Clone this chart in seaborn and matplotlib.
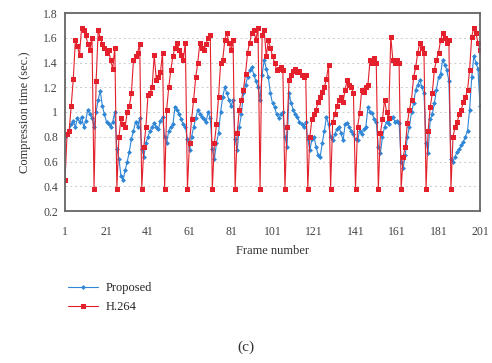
import matplotlib
matplotlib.use("Agg")
import matplotlib.pyplot as plt
import seaborn as sns
import pandas as pd

# values, one row per GOP (drop frame = I-frame)
h264_time = [
    0.45, 0.82, 0.85, 1.05, 1.27, 1.58, 1.53, 1.46, 1.68, 1.66, 1.62, 1.55, 1.50, 1.60, 0.38,
    1.25, 1.66, 1.60, 1.55, 1.52, 1.48, 1.50, 1.42, 1.35, 1.52, 0.38,
    0.80, 0.95, 0.90, 0.88, 1.00, 1.05, 1.15, 1.42, 1.45, 1.48, 1.55, 0.38,
    0.72, 0.88, 1.14, 1.15, 1.20, 1.46, 1.26, 1.28, 1.32, 1.48, 0.38,
    1.02, 1.20, 1.34, 1.45, 1.52, 1.56, 1.50, 1.46, 1.42, 1.56, 0.38,
    0.75, 0.94, 1.10, 1.28, 1.40, 1.56, 1.52, 1.50, 1.55, 1.60, 1.62, 0.38,
    0.75, 0.90, 1.12, 1.40, 1.42, 1.58, 1.64, 1.56, 1.50, 1.58, 0.38,
    0.83, 1.02, 1.10, 1.18, 1.31, 1.48, 1.56, 1.64, 1.66, 1.58, 1.68, 0.38,
    1.62, 1.66, 1.45, 1.58, 1.52, 1.45, 1.40, 1.34, 1.35, 1.36, 1.34, 0.38,
    0.88, 1.26, 1.30, 1.33, 1.35, 1.32, 1.33, 1.30, 1.28, 1.30, 0.38,
    0.80, 0.94, 0.98, 1.02, 1.08, 1.12, 1.16, 1.20, 1.27, 1.38, 0.38,
    0.92, 0.98, 1.05, 1.10, 1.12, 1.08, 1.18, 1.26, 1.22, 1.20, 1.15, 0.38,
    0.88, 0.99, 1.18, 1.16, 1.20, 1.22, 1.42, 1.40, 1.44, 1.40, 0.38,
    0.83, 0.94, 1.10, 1.00, 0.95, 1.61, 1.42, 1.40, 1.42, 1.40, 0.38,
    0.64, 0.72, 0.91, 1.02, 1.10, 1.28, 1.36, 1.48, 1.56, 1.52, 1.48, 0.38,
    0.85, 1.04, 1.15, 1.34, 1.42, 1.48, 1.58, 1.64, 1.60, 1.56, 1.58, 0.38,
    0.80, 0.88, 0.92, 0.98, 1.02, 1.08, 1.12, 1.18, 1.34, 1.61, 1.68, 1.64, 1.56, 1.50,
]

proposed_time = [
    0.80, 0.83, 0.85, 0.90, 0.93, 0.88, 0.95, 0.92, 0.96, 0.88, 0.93, 1.02, 0.98, 0.95, 0.88,
    1.00, 1.10, 1.17, 1.05, 0.98, 0.92, 0.90, 0.88, 0.92, 1.00, 0.70,
    0.62, 0.48, 0.45, 0.53, 0.60, 0.68, 0.78, 0.85, 0.92, 0.88, 0.95, 0.70,
    0.64, 0.75, 0.80, 0.85, 0.88, 0.91, 0.88, 0.86, 0.93, 0.96, 0.80,
    0.75, 0.85, 0.88, 0.90, 1.04, 1.02, 0.98, 0.94, 0.90, 0.88, 0.78,
    0.69, 0.80, 0.88, 0.95, 1.02, 0.98, 0.96, 0.94, 0.92, 1.00, 0.95, 0.70,
    0.62, 0.75, 0.83, 1.00, 1.12, 1.20, 1.15, 1.10, 1.05, 1.10, 0.78,
    0.69, 0.88, 0.98, 1.15, 1.22, 1.28, 1.34, 1.36, 1.30, 1.25, 1.20, 1.10,
    1.30, 1.42, 1.35, 1.28, 1.15, 1.07, 1.04, 0.98, 0.95, 0.98, 1.00, 0.80,
    0.72, 1.15, 1.07, 1.02, 0.98, 0.96, 0.92, 0.90, 0.88, 0.92, 0.78,
    0.69, 0.78, 0.80, 0.72, 0.65, 0.64, 0.75, 0.85, 0.96, 0.90, 0.80,
    0.77, 0.82, 0.86, 0.88, 0.83, 0.77, 0.90, 0.91, 0.88, 0.85, 0.82, 0.78,
    0.77, 0.85, 0.82, 0.86, 0.88, 1.04, 1.00, 0.99, 0.94, 0.92, 0.72,
    0.67, 0.80, 0.88, 0.92, 0.90, 0.95, 0.96, 0.92, 0.93, 0.91, 0.60,
    0.55, 0.65, 0.80, 0.88, 1.00, 1.07, 1.18, 1.22, 1.26, 1.20, 1.15, 0.75,
    0.67, 0.94, 0.98, 1.07, 1.18, 1.28, 1.31, 1.42, 1.38, 1.34, 1.25, 0.62,
    0.60, 0.64, 0.68, 0.70, 0.73, 0.76, 0.80, 0.85, 1.02, 1.28, 1.45, 1.40, 1.35, 1.05,
]

frames = list(range(1, 202))
x_ticks = list(range(1, 202, 20))
y_ticks = [0.2, 0.4, 0.6, 0.8, 1.0, 1.2, 1.4, 1.6, 1.8]
y_tick_labels = ["0.2", "0.4", "0.6", "0.8", "1", "1.2", "1.4", "1.6", "1.8"]

df = pd.DataFrame({"frame": frames, "Proposed": proposed_time, "H.264": h264_time})

sns.set_style("white")
plt.rcParams["font.family"] = ["Liberation Serif", "DejaVu Serif"]

fig, ax = plt.subplots(figsize=(4.92, 3.63), dpi=100)
fig.subplots_adjust(left=65 / 492, right=480 / 492, top=1 - 13 / 363, bottom=1 - 211 / 363)

sns.lineplot(data=df, x="frame", y="Proposed", ax=ax, color="#2f86d6", marker="D",
             markersize=2.5, markeredgewidth=0, linewidth=0.8, label="Proposed")
sns.lineplot(data=df, x="frame", y="H.264", ax=ax, color="#e3202b", marker="s",
             markersize=3.6, markeredgewidth=0, linewidth=0.8, label="H.264")

ax.set_xlim(1, 201)
ax.set_ylim(0.2, 1.8)
ax.set_xticks(x_ticks)
ax.set_yticks(y_ticks)
ax.set_yticklabels(y_tick_labels)
ax.tick_params(labelsize=8.5, colors="#444444", length=2, pad=3)
ax.tick_params(axis="x", length=0, pad=11)
ax.grid(axis="y", linestyle=(0, (2, 3)), color="#cccccc", linewidth=0.7)
ax.set_axisbelow(True)
for sp in ax.spines.values():
    sp.set_color("#666666")
    sp.set_linewidth(1.3)

ax.set_xlabel("Frame number", fontsize=9, color="#333333", labelpad=5)
ax.set_ylabel("Compression time (sec.)", fontsize=9, color="#333333", labelpad=9)

ax.legend(loc="upper left", bbox_to_anchor=(-0.005, -0.335), frameon=False, fontsize=9,
          handlelength=2.4, labelspacing=0.55, borderaxespad=0, handletextpad=0.6)

fig.text(0.5, 1 - 347 / 363, "(c)", ha="center", va="center", fontsize=11, color="#333333")

fig.savefig("out.png", dpi=100)
